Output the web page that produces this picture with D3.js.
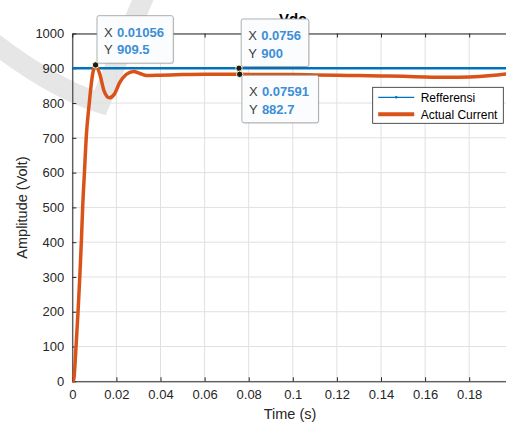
<!DOCTYPE html>
<html>
<head>
<meta charset="utf-8">
<script src="https://cdn.jsdelivr.net/npm/d3@7"></script>
<style>
  body { margin: 0; background: #fff; }
  svg { display: block; font-family: "Liberation Sans", Arial, sans-serif; }
</style>
</head>
<body>
<svg id="chart"></svg>
<script>
// Reference signal (constant setpoint)
const refTime = [0, 0.2];
const refVolt = [900, 900];

// Actual signal
const actTime = [0, 0.0005, 0.0017, 0.0026, 0.0034, 0.0041, 0.0047, 0.0055, 0.0063, 0.0077, 0.0088, 0.0098, 0.01056,
  0.0126, 0.0144, 0.0168, 0.019, 0.0216, 0.0244, 0.0277, 0.0307, 0.0338, 0.04, 0.05, 0.06, 0.07, 0.07591,
  0.09, 0.1, 0.11, 0.12, 0.13, 0.14, 0.15, 0.16, 0.17, 0.18, 0.19, 0.2];
const actVolt = [0, 0, 100, 200, 300, 400, 500, 600, 700, 800, 865, 900, 909.5,
  880, 835, 815, 825, 860, 882, 891, 885, 879, 880, 882, 883, 883, 882.7,
  882, 882, 881, 880, 879, 878, 877, 875, 874, 875, 879, 886];

// 0.2 sits past the right edge of the picture, so no label for it
const xTicks = [0, 0.02, 0.04, 0.06, 0.08, 0.1, 0.12, 0.14, 0.16, 0.18];
const yTicks = [0, 100, 200, 300, 400, 500, 600, 700, 800, 900, 1000];

// data tips: [x, y, placement]
const tips = [
  [0.01056, 909.5, "above"],
  [0.0756, 900, "above"],
  [0.07591, 882.7, "below"]
];

const legendNames = ["Refferensi", "Actual Current"];

const W = 506, H = 423;
const margin = { top: 33.5, left: 72.3 };
const width = 441, height = 347.8;

const svg = d3.select("#chart").attr("width", W).attr("height", H);

// watermark stroke in the background
svg.append("path")
  .attr("d", "M-10,40 Q52,88 100,103 L146,-8")
  .attr("fill", "none")
  .attr("stroke", "#e6e6e6")
  .attr("stroke-width", 20);

const g = svg.append("g").attr("transform", "translate(" + margin.left + "," + margin.top + ")");

const x = d3.scaleLinear().domain([0, 0.2]).range([0, width]);
const y = d3.scaleLinear().domain([0, 1000]).range([height, 0]);

// grid
g.selectAll(".gx").data(xTicks).enter().append("line")
  .attr("x1", d => x(d)).attr("x2", d => x(d))
  .attr("y1", 0).attr("y2", height)
  .attr("stroke", "#e0e0e0").attr("stroke-width", 1);
g.selectAll(".gy").data(yTicks).enter().append("line")
  .attr("x1", 0).attr("x2", width)
  .attr("y1", d => y(d)).attr("y2", d => y(d))
  .attr("stroke", "#e0e0e0").attr("stroke-width", 1);

// axes with inward ticks
const fmt = d => String(+d.toFixed(2));
const axStyle = sel => {
  sel.selectAll("path").attr("stroke", "#262626");
  sel.selectAll("line").attr("stroke", "#262626");
  sel.selectAll("text").attr("fill", "#262626").style("font-size", "13px");
};
g.append("g").attr("transform", "translate(0," + height + ")")
  .call(d3.axisBottom(x).tickValues(xTicks).tickFormat(fmt).tickSizeInner(-4).tickSizeOuter(0).tickPadding(8))
  .call(axStyle);
g.append("g")
  .call(d3.axisLeft(y).tickValues(yTicks).tickFormat(fmt).tickSizeInner(-4).tickSizeOuter(0).tickPadding(8))
  .call(axStyle);
g.append("g")
  .call(d3.axisTop(x).tickValues(xTicks).tickFormat("").tickSizeInner(-4).tickSizeOuter(0))
  .call(axStyle);

// clip
svg.append("clipPath").attr("id", "clip").append("rect")
  .attr("x", 0).attr("y", -3).attr("width", width).attr("height", height + 6);

const line = d3.line().x(d => x(d[0])).y(d => y(d[1]));
const lineSmooth = d3.line().x(d => x(d[0])).y(d => y(d[1])).curve(d3.curveMonotoneX);

g.append("path")
  .datum(refTime.map((t, i) => [t, refVolt[i]]))
  .attr("clip-path", "url(#clip)")
  .attr("d", line)
  .attr("fill", "none").attr("stroke", "#0072BD").attr("stroke-width", 2.5);

g.append("path")
  .datum(actTime.map((t, i) => [t, actVolt[i]]))
  .attr("clip-path", "url(#clip)")
  .attr("d", lineSmooth)
  .attr("fill", "none").attr("stroke", "#D95319").attr("stroke-width", 3.5)
  .attr("stroke-linejoin", "round");

// labels
svg.append("text")
  .attr("x", margin.left + width / 2).attr("y", 23.5)
  .attr("text-anchor", "middle").attr("font-weight", "bold")
  .style("font-size", "15px").attr("fill", "#000").text("Vdc");
svg.append("text")
  .attr("x", 290).attr("y", 419)
  .attr("text-anchor", "middle").style("font-size", "14.5px").attr("fill", "#262626")
  .text("Time (s)");
svg.append("text")
  .attr("transform", "translate(26.5," + 207.5 + ") rotate(-90)")
  .attr("text-anchor", "middle").style("font-size", "14.5px").attr("fill", "#262626")
  .text("Amplitude (Volt)");

// legend
const lg = svg.append("g").attr("transform", "translate(372.7,87.3)");
lg.append("rect").attr("width", 130.6).attr("height", 36)
  .attr("fill", "#fff").attr("stroke", "#262626").attr("stroke-width", 0.8);
lg.append("line").attr("x1", 5.5).attr("x2", 41.5).attr("y1", 10).attr("y2", 10)
  .attr("stroke", "#0072BD").attr("stroke-width", 1.2);
lg.append("circle").attr("cx", 23.5).attr("cy", 10).attr("r", 1.3).attr("fill", "#0072BD");
lg.append("line").attr("x1", 5.5).attr("x2", 41.5).attr("y1", 27).attr("y2", 27)
  .attr("stroke", "#D95319").attr("stroke-width", 4);
lg.selectAll(".lt").data(legendNames).enter().append("text")
  .attr("x", 48).attr("y", (d, i) => 14.5 + i * 17)
  .style("font-size", "12px").attr("fill", "#000").text(d => d);

// data tips
const tipBlue = "#3d8fd6";
tips.forEach(([tx, ty, place]) => {
  const px = margin.left + x(tx), py = margin.top + y(ty);
  const bw = place === "below" ? 76.6 : (tx < 0.02 ? 76.3 : 67.6);
  const bx = px + (tx < 0.02 ? 1.4 : 2.2);
  const by = place === "below" ? py + 1 : py - 49.3;
  const box = svg.append("g").attr("transform", "translate(" + bx + "," + by + ")");
  box.append("rect").attr("x", 1).attr("y", 1).attr("width", bw).attr("height", 47.5).attr("rx", 2)
    .attr("fill", "#000").attr("opacity", 0.08);
  box.append("rect").attr("width", bw).attr("height", 47.5).attr("rx", 2)
    .attr("fill", "#fbfcfe").attr("stroke", "#9a9a9a").attr("stroke-width", 0.8);
  const rows = [["X", String(tx)], ["Y", String(ty)]];
  rows.forEach((r, i) => {
    const t = box.append("text").attr("x", 7).attr("y", 21 + i * 17.6).style("font-size", "13px");
    t.append("tspan").attr("fill", "#404040").text(r[0]);
    t.append("tspan").attr("x", 20).attr("fill", tipBlue).attr("font-weight", "bold").text(r[1]);
  });
});
tips.forEach(([tx, ty]) => {
  svg.append("circle")
    .attr("cx", margin.left + x(tx)).attr("cy", margin.top + y(ty)).attr("r", 3.2)
    .attr("fill", "#1a1a1a").attr("stroke", "#fff6c8").attr("stroke-width", 1);
});
</script>
</body>
</html>
